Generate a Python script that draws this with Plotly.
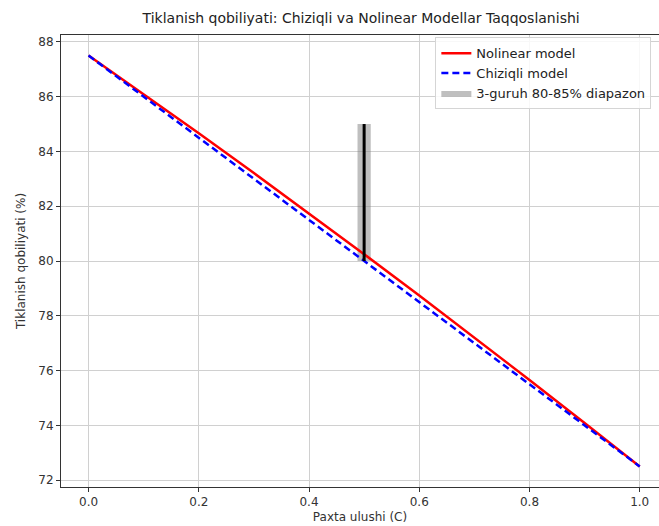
import plotly.graph_objects as go

# Data
C_values = [0.0, 0.1, 0.2, 0.3, 0.4, 0.5, 0.6, 0.7, 0.8, 0.9, 1.0]
nonlinear_vals = [87.5, 86.09, 84.66, 83.21, 81.74, 80.25, 78.74, 77.21, 75.66, 74.09, 72.5]
linear_vals = [87.5, 86.0, 84.5, 83.0, 81.5, 80.0, 78.5, 77.0, 75.5, 74.0, 72.5]
range_x = [0.5]
range_low = [80.0]
range_high = [85.0]
x_ticks = [0.0, 0.2, 0.4, 0.6, 0.8, 1.0]
y_ticks = [72, 74, 76, 78, 80, 82, 84, 86, 88]

font = "DejaVu Sans"
band_half = 0.012

fig = go.Figure()

bx, lo, hi = range_x[0], range_low[0], range_high[0]
fig.add_trace(go.Scatter(
    x=[bx - band_half, bx + band_half, bx + band_half, bx - band_half, bx - band_half],
    y=[lo, lo, hi, hi, lo], mode="lines", fill="toself",
    fillcolor="rgba(128,128,128,0.5)", line=dict(width=0, color="rgba(128,128,128,0.5)"),
    name="3-guruh 80-85% diapazon", legendrank=3, hoverinfo="skip",
))
fig.add_trace(go.Scatter(
    x=C_values, y=nonlinear_vals, mode="lines",
    line=dict(color="red", width=2.5), name="Nolinear model", legendrank=1,
))
fig.add_trace(go.Scatter(
    x=C_values, y=linear_vals, mode="lines",
    line=dict(color="blue", width=2.5, dash="7px,4px"), name="Chiziqli model", legendrank=2,
))
fig.add_trace(go.Scatter(
    x=[bx, bx], y=[lo, hi], mode="lines",
    line=dict(color="black", width=3), showlegend=False, hoverinfo="skip",
))

fig.update_layout(
    width=659, height=526,
    margin=dict(l=61, r=0, t=35, b=39, autoexpand=False),
    paper_bgcolor="white", plot_bgcolor="white",
    font=dict(family=font, size=12, color="#333333"),
    title=dict(text="Tiklanish qobiliyati: Chiziqli va Nolinear Modellar Taqqoslanishi",
               x=0.548, xanchor="center", y=0.966, yanchor="middle",
               font=dict(family=font, size=14, color="#222222")),
    showlegend=True,
    legend=dict(x=0.626, xanchor="left", y=0.995, yanchor="top",
                bgcolor="rgba(255,255,255,0.85)", bordercolor="#d5d5d5", borderwidth=1,
                font=dict(family=font, size=13, color="#222222"),
                traceorder="normal", tracegroupgap=0),
)
fig.update_xaxes(
    range=[-0.05, 1.035], tickvals=x_ticks, ticktext=[f"{v:.1f}" for v in x_ticks],
    showgrid=True, gridcolor="#d0d0d0", gridwidth=1,
    showline=True, linecolor="#333333", linewidth=1, mirror=True,
    ticks="outside", ticklen=4, tickcolor="#333333", zeroline=False, automargin=False,
    title=dict(text="Paxta ulushi (C)", standoff=4, font=dict(size=12)),
)
fig.update_yaxes(
    range=[71.75, 88.25], tickvals=y_ticks,
    showgrid=True, gridcolor="#d0d0d0", gridwidth=1,
    showline=True, linecolor="#333333", linewidth=1, mirror=False,
    ticks="outside", ticklen=4, tickcolor="#333333", zeroline=False, automargin=False,
    title=dict(text="Tiklanish qobiliyati (%)", standoff=10, font=dict(size=12)),
)

fig.write_html("out.html", config={"displayModeBar": False},
               post_script="document.body.style.margin='0';document.body.style.overflow='hidden';")
